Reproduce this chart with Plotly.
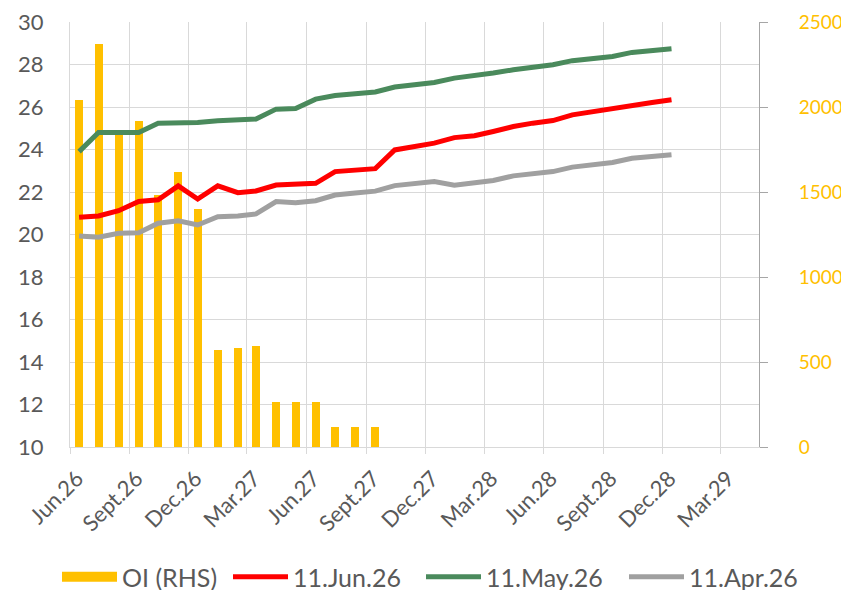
import plotly.graph_objects as go

# ---- data ----
dates = [
    "2026-06-15", "2026-07-15", "2026-08-15", "2026-09-15", "2026-10-15", "2026-11-15",
    "2026-12-15", "2027-01-15", "2027-02-15", "2027-03-15", "2027-04-15", "2027-05-15",
    "2027-06-15", "2027-07-15", "2027-08-15", "2027-09-15", "2027-10-15", "2027-11-15",
    "2027-12-15", "2028-01-15", "2028-02-15", "2028-03-15", "2028-04-15", "2028-05-15",
    "2028-06-15", "2028-07-15", "2028-08-15", "2028-09-15", "2028-10-15", "2028-11-15",
    "2028-12-15",
]
oi_dates = dates[:16]
oi_rhs = [2040, 2370, 1860, 1920, 1480, 1620, 1400, 570, 585, 595,
          264, 264, 264, 115, 115, 115]

jun26 = [20.81, 20.87, 21.12, 21.55, 21.63, 22.29, 21.67, 22.29, 21.97, 22.05,
         22.33, 22.37, 22.41, 22.96, 23.04, 23.10, 23.98, 24.14, 24.30, 24.56,
         24.65, 24.85, 25.08, 25.24, 25.36, 25.63, 25.79, 25.91, 26.10, 26.21, 26.34]
may26 = [23.90, 24.80, 24.80, 24.80, 25.24, 25.24, 25.27, 25.35, 25.40, 25.43,
         25.90, 25.93, 26.37, 26.54, 26.62, 26.71, 26.94, 27.05, 27.15, 27.36,
         27.46, 27.60, 27.75, 27.86, 27.99, 28.18, 28.27, 28.38, 28.57, 28.66, 28.74]
apr26 = [19.93, 19.87, 20.06, 20.08, 20.53, 20.65, 20.45, 20.84, 20.87, 20.97,
         21.55, 21.50, 21.59, 21.86, 21.95, 22.04, 22.30, 22.39, 22.49, 22.32,
         22.44, 22.54, 22.76, 22.85, 22.96, 23.17, 23.28, 23.39, 23.59, 23.67, 23.75]

tick_dates = ["2026-06-01", "2026-09-01", "2026-12-01", "2027-03-01", "2027-06-01",
              "2027-09-01", "2027-12-01", "2028-03-01", "2028-06-01", "2028-09-01",
              "2028-12-01", "2029-03-01"]
tick_labels = ["Jun.26", "Sept.26", "Dec.26", "Mar.27", "Jun.27", "Sept.27",
               "Dec.27", "Mar.28", "Jun.28", "Sept.28", "Dec.28", "Mar.29"]

FONT = "Lato"
GRID = "#d9d9d9"
TXT = "#595959"
GOLD = "#FFC000"
RED = "#FF0000"
GREEN = "#4A8A5C"
GRAY = "#A0A0A0"

W, H = 841, 590
L, T, R, B = 70, 22, 841 - 759, 590 - 447
PW = W - L - R
PH = H - T - B


def px_x(p):
    return (p - L) / PW


LEG_Y = (447 - 577) / PH

fig = go.Figure()
fig.add_trace(go.Bar(x=oi_dates, y=oi_rhs, name="OI (RHS)", marker_color=GOLD,
                     marker_line_width=0, width=1.07e9, yaxis="y", showlegend=False))
# legend swatch for the bars (no data of its own)
fig.add_trace(go.Scatter(x=[None], y=[None], name="OI (RHS)", mode="lines",
                         line=dict(color=GOLD, width=15), yaxis="y", legend="legend"))
fig.add_trace(go.Scatter(x=dates, y=jun26, name="11.Jun.26", mode="lines",
                         line=dict(color=RED, width=5), yaxis="y2", legend="legend2"))
fig.add_trace(go.Scatter(x=dates, y=may26, name="11.May.26", mode="lines",
                         line=dict(color=GREEN, width=5), yaxis="y2", legend="legend3"))
fig.add_trace(go.Scatter(x=dates, y=apr26, name="11.Apr.26", mode="lines",
                         line=dict(color=GRAY, width=5), yaxis="y2", legend="legend4"))

leg_common = dict(orientation="h", y=LEG_Y, yanchor="middle", xanchor="left",
                  font=dict(size=25, color=TXT, family=FONT), itemwidth=55,
                  bgcolor="rgba(0,0,0,0)", borderwidth=0)

fig.update_layout(
    width=W, height=H,
    margin=dict(l=L, r=R, t=T, b=B, autoexpand=False),
    paper_bgcolor="white", plot_bgcolor="white",
    font=dict(family=FONT, color=TXT),
    showlegend=True,
    legend=dict(x=px_x(57), **leg_common),
    legend2=dict(x=px_x(228), **leg_common),
    legend3=dict(x=px_x(421), **leg_common),
    legend4=dict(x=px_x(624), **leg_common),
    xaxis=dict(type="date", range=["2026-06-01", "2029-04-29"],
               tickmode="array", tickvals=tick_dates, ticktext=tick_labels,
               tickangle=-45, tickfont=dict(size=22, color=TXT),
               ticklabelstandoff=3, ticklabelshift=7, ticklabeloverflow="allow",
               showgrid=True, gridcolor=GRID, gridwidth=1,
               showline=True, linecolor=GRID, linewidth=1,
               ticks="outside", ticklen=6, tickcolor=GRID, zeroline=False,
               automargin=False),
    yaxis=dict(side="right", range=[0, 2500], tick0=0, dtick=500,
               showgrid=True, gridcolor=GRID, gridwidth=1,
               minor=dict(dtick=250, showgrid=True, gridcolor=GRID, ticks=""),
               showline=True, linecolor="#a6a6a6", linewidth=1,
               ticks="outside", ticklen=8, tickcolor="#a6a6a6",
               tickfont=dict(size=19, color=GOLD), ticklabelstandoff=27,
               ticklabeloverflow="allow",
               zeroline=False, automargin=False),
    yaxis2=dict(overlaying="y", side="left", range=[10, 30], tick0=10, dtick=2,
                showgrid=False, showline=True, linecolor=GRID, linewidth=1,
                ticks="", tickfont=dict(size=22, color=TXT), ticklabelstandoff=21,
                ticklabeloverflow="allow",
                zeroline=False, automargin=False),
    bargap=0,
)

fig.write_html(
    "out.html",
    config={"displayModeBar": False},
    post_script="document.body.style.margin='0';document.body.style.overflow='hidden';"
                "document.documentElement.style.overflow='hidden';",
)
